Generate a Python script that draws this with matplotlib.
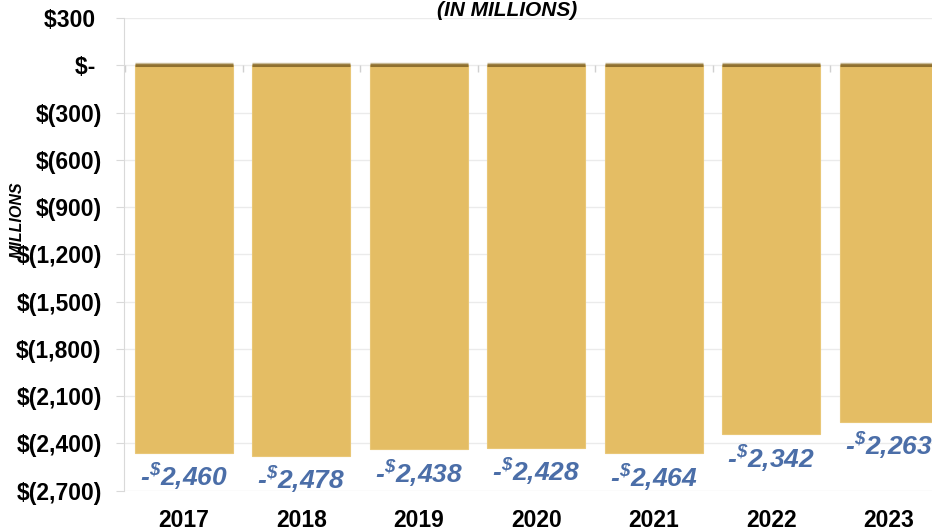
import matplotlib
matplotlib.use("Agg")
import matplotlib.pyplot as plt
import numpy as np

years = ["2017", "2018", "2019", "2020", "2021", "2022", "2023"]
net_position = [-2460, -2478, -2438, -2428, -2464, -2342, -2263]
y_ticks = [300, 0, -300, -600, -900, -1200, -1500, -1800, -2100, -2400, -2700]

bar_color = "#E4BD64"
label_blue = "#4B6EA8"
grid_gray = "#EBEBEB"

plt.rcParams["font.family"] = ["Liberation Sans", "DejaVu Sans"]
plt.rcParams["mathtext.fontset"] = "custom"
plt.rcParams["mathtext.rm"] = "Liberation Sans:italic:bold"


def money(v):
    if v == 0:
        return "$- "
    if v > 0:
        return "${:,} ".format(v)
    return "$({:,})".format(-v)


fig = plt.figure(figsize=(9.32, 5.3), dpi=100)
ax = fig.add_axes([0.133, 0.0745, 0.885, 0.8915])

x = np.arange(len(years))
width = 0.835
ax.bar(x, net_position, width=width, color=bar_color, edgecolor="#E9C777",
       linewidth=0.8, zorder=2)
# darker bevel on top edge of each bar
ax.hlines([0] * len(x), x - width / 2, x + width / 2, color="#8F702F",
          linewidth=2.2, zorder=3)
ax.hlines([0] * len(x), x - width / 2, x + width / 2, color="#C9BB98",
          linewidth=1.0, zorder=3, transform=ax.transData +
          matplotlib.transforms.ScaledTranslation(0, 2 / 100, fig.dpi_scale_trans))

# small tick marks between categories along the zero line
bounds = np.arange(len(years) + 1) - 0.5
ax.vlines(bounds, -45, 0, color="#D0D0D0", linewidth=1.0, zorder=1)

for xi, v in zip(x, net_position):
    ax.annotate("-$^{\\$}$" + "{:,}".format(-v), (xi, v), xytext=(0, -17),
                textcoords="offset points", ha="center", va="center",
                fontsize=19, color=label_blue, style="italic",
                fontweight="bold", zorder=4)

ax.set_xlim(-0.51, 6.51)
ax.set_ylim(-2700, 300)
ax.set_yticks(y_ticks)
ax.set_yticklabels([money(v) for v in y_ticks])
ax.set_xticks(x)
ax.set_xticklabels(years)

for lab in ax.get_yticklabels() + ax.get_xticklabels():
    lab.set_fontweight("bold")
    lab.set_fontsize(16.5)

ax.tick_params(axis="y", length=6, color="#D9D9D9", pad=10)
ax.tick_params(axis="x", length=0, pad=13)
ax.grid(axis="y", color=grid_gray, linewidth=1.0, zorder=0)
ax.set_axisbelow(True)
for side in ["top", "right", "bottom"]:
    ax.spines[side].set_visible(False)
ax.spines["left"].set_color("#D9D9D9")

fig.text(0.544, 1 - 16 / 530, "(IN MILLIONS)", ha="center", va="baseline",
         fontsize=15, fontweight="bold", style="italic", color="black")
fig.text(0.018, 1 - 220 / 530, "MILLIONS", ha="center", va="center",
         rotation=90, fontsize=11.5, fontweight="bold", style="italic")

fig.savefig("out.png", dpi=100)
